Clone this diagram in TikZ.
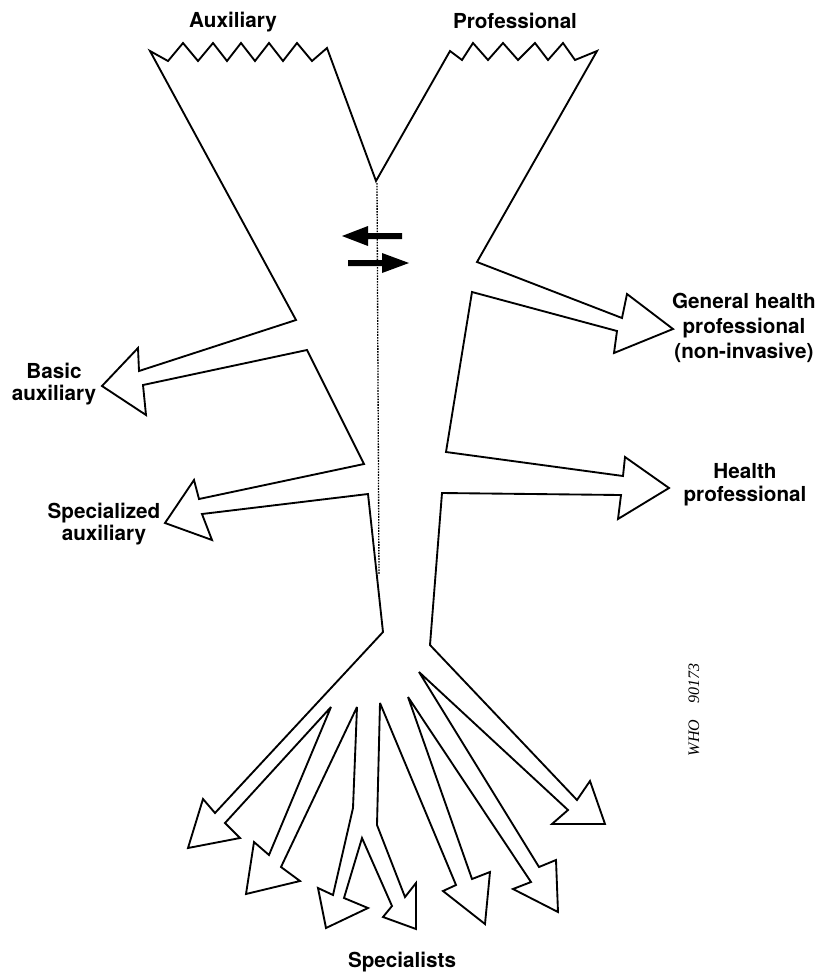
\documentclass[tikz,border=0pt]{standalone}
\usepackage{fontspec}
\setmainfont{TeX Gyre Heros}
\newfontfamily\whofont{Liberation Serif}
\begin{document}
\begin{tikzpicture}[x=0.75pt,y=-0.75pt,
  outline/.style={line width=1.4pt, line join=miter, miter limit=4},
  lab/.style={font=\fontsize{15.5}{17}\selectfont\bfseries, align=center, inner sep=0pt},
  labwide/.style={font=\fontsize{15.5}{19}\selectfont\bfseries, align=center, inner sep=0pt},
  divider/.style={line width=1pt, dash pattern=on 1.2pt off 0.9pt},
  solidarrow/.style={fill=black, draw=none}]
\useasboundingbox (0,0) rectangle (825,976);

% main outline
\draw[outline]
  (150,51) -- (168,61) -- (183,43) -- (198,61) -- (213,43) -- (227,61) -- (241,43)
  -- (255,61) -- (269,43) -- (283,61) -- (297,43) -- (312,61) -- (327,48)
  -- (376,181)
  -- (450,51) -- (462,60) -- (473,43) -- (488,60) -- (503,43) -- (518,60) -- (535,43)
  -- (548,60) -- (563,43) -- (575,60) -- (597,51)
  -- (477,262)
  % general health professional arrow
  -- (622,318) -- (627,294) -- (673,329) -- (614,353) -- (617,331)
  -- (472,292) -- (446,452)
  % health professional arrow
  -- (623,476) -- (625,457) -- (669,488) -- (618,519) -- (621,495)
  -- (442,493) -- (430,645)
  % specialist arrow 7
  -- (577,800) -- (590,781) -- (605,824) -- (552,824) -- (568,810)
  -- (419,672)
  % arrow 6
  -- (539,867) -- (556,860) -- (558,912) -- (513,889) -- (531,882)
  -- (408,697)
  % arrow 5
  -- (472,879) -- (490,872) -- (485,924) -- (443,891) -- (456,885)
  -- (380,703)
  % arrow 4
  -- (377,825) -- (405,897) -- (416,883) -- (416,929) -- (383,917) -- (392,906)
  -- (362,838)
  % arrow 3
  -- (344,898) -- (368,908) -- (326,928) -- (318,888) -- (333,895)
  -- (353,808) -- (357,707)
  % arrow 2
  -- (281,867) -- (300,881) -- (246,894) -- (254,842) -- (269,855)
  -- (331,707)
  % arrow 1
  -- (225,823) -- (240,838) -- (188,848) -- (203,799) -- (215,813)
  -- (383,632) -- (368,494)
  % specialized auxiliary arrow
  -- (202,514) -- (212,540) -- (165,523) -- (194,480) -- (199,499)
  -- (364,464) -- (307,350)
  % basic auxiliary arrow
  -- (143,385) -- (146,415) -- (102,386) -- (138,348) -- (139,371)
  -- (296,320) -- cycle;

% dotted divider
\draw[divider] (377,183) -- (379,575);

% exchange arrows
\fill[solidarrow] (402,233) -- (368,233) -- (368,226) -- (342,236) -- (368,246) -- (368,239) -- (402,239) -- cycle;
\fill[solidarrow] (348,260) -- (382,260) -- (382,253) -- (409,263) -- (382,273) -- (382,266) -- (348,266) -- cycle;

% labels
\node[lab] (aux) at (233,22) {Auxiliary};
\node[lab] (prof) at (515,21) {Professional};
\node[lab] (basic) at (54,384) {Basic\\auxiliary};
\node[lab] (spec) at (104,524) {Specialized\\auxiliary};
\node[labwide] (ghp) at (744,328) {General health\\professional\\(non-invasive)};
\node[lab] (hp) at (745,485) {Health\\professional};
\node[lab] (specialists) at (402,962) {Specialists};
\node[font=\whofont\itshape\fontsize{12}{14}\selectfont, rotate=90, inner sep=0pt] (who) at (694,710) {WHO\quad 90173};
\end{tikzpicture}
\end{document}
